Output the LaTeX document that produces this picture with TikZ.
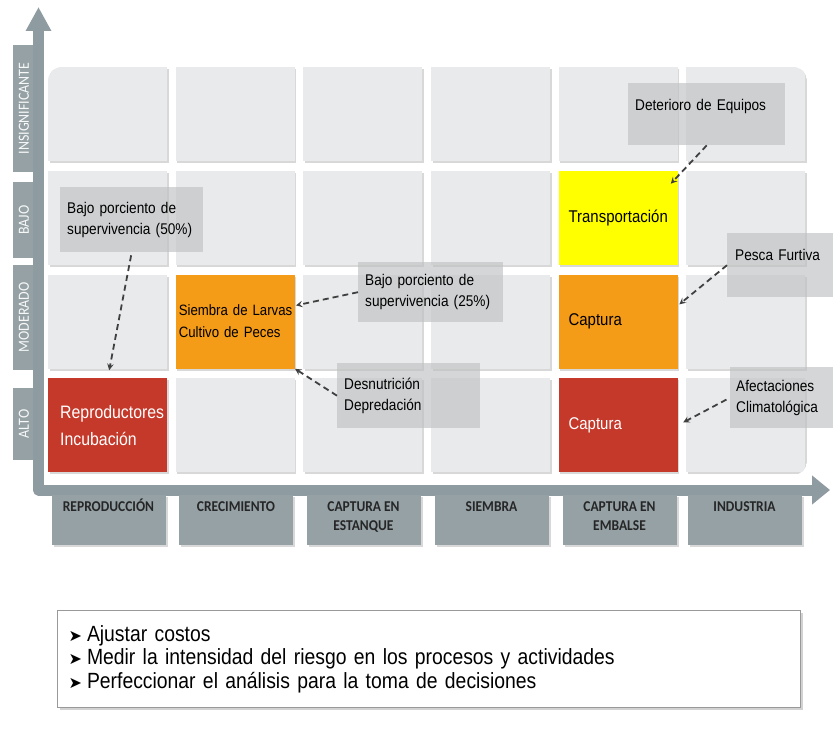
\documentclass[tikz,border=0pt]{standalone}
\usepackage{fontspec}
\setmainfont{Liberation Sans}[FakeStretch=0.88]
\newfontfamily\axisfont{Carlito}[FakeStretch=0.9]
\newfontfamily\bulletfont{DejaVu Sans}
\usepackage{tikz}
\usetikzlibrary{positioning}
\usetikzlibrary{arrows,arrows.meta,shadows}
\definecolor{axisgray}{HTML}{8E9BA0}
\definecolor{tabgray}{HTML}{95A1A5}
\definecolor{cellgray}{HTML}{E8EAEB}
\definecolor{riskred}{HTML}{C5392A}
\definecolor{riskorange}{HTML}{F49B17}
\definecolor{riskyellow}{HTML}{FFFF00}
\definecolor{notegray}{HTML}{BFC1C2}
\definecolor{linkgray}{HTML}{404040}
\tikzset{
    every picture/.style={>=stealth,auto},
}

\begin{document}
\begin{tikzpicture}[x=1pt,y=-1pt,
  cell/.style={rectangle,anchor=north west,fill=cellgray,minimum width=119pt,minimum height=94pt,inner sep=0pt,drop shadow={shadow xshift=1.5pt,shadow yshift=-2pt,opacity=0.3}},
  risk/.style={cell,fill=#1,align=left,inner xsep=10pt,text width=99pt,font=\fontsize{17}{22}\selectfont},
  ytab/.style={fill=tabgray,rotate=90,minimum height=22pt,inner sep=0pt,text=white!92!tabgray,font=\axisfont\fontsize{15.5}{15.5}\selectfont},
  xtab/.style={fill=tabgray,anchor=north,minimum width=114pt,minimum height=50pt,drop shadow={shadow xshift=2pt,shadow yshift=-2pt,opacity=0.3}},
  xlab/.style={anchor=north,yshift=-3pt,align=center,text=black!85,font=\axisfont\bfseries\fontsize{15}{19}\selectfont},
  note/.style={anchor=north west,fill=notegray,fill opacity=0.65,text opacity=1,align=left,inner xsep=7pt,text width=#1,font=\fontsize{15.5}{21}\selectfont},
  link/.style={draw=linkgray,dash pattern=on 6pt off 4pt,line width=1.8pt,->},
  summary/.style={anchor=north west,draw=black!40,line width=1.2pt,fill=white,minimum width=743pt,minimum height=97pt,inner xsep=11pt,text width=721pt,align=left,font=\fontsize{22}{23.5}\selectfont,drop shadow={shadow xshift=2pt,shadow yshift=-2pt,opacity=0.35}}]
\path[use as bounding box,fill=white] (0,0) rectangle (833,738);

\begin{scope}
\clip[rounded corners=14pt] (48,67) rectangle (807,475) (30,300) rectangle (300,495);
\foreach \c/\r in {1/1,1/2,1/3,2/1,2/2,2/4,3/1,3/2,3/3,3/4,4/1,4/2,4/3,4/4,5/1,6/1,6/2,6/3,6/4}
  \node[cell] (cell-\c-\r) at ({48+127.6*(\c-1)},{67+103.7*(\r-1)}) {};
\end{scope}

\node[risk=riskred,text=white,inner xsep=12pt,text width=95pt,font=\fontsize{18}{27}\selectfont] (repro) at (48,378.1) {Reproductores\\Incubación};
\node[risk=riskorange,inner xsep=3pt,text width=113pt,font=\fontsize{15}{22}\selectfont] (siembra) at (175.6,274.4) {\mbox{Siembra de Larvas}\\\mbox{Cultivo de Peces}};
\node[risk=riskyellow] (transp) at (558.4,170.7) {Transportación};
\node[risk=riskorange] (capmod) at (558.4,274.4) {Captura};
\node[risk=riskred,text=white] (capalto) at (558.4,378.1) {Captura};

\node[ytab,minimum width=127pt] (tab-insig) at (24,108.5) {INSIGNIFICANTE};
\node[ytab,minimum width=76pt] (tab-bajo) at (24,220) {BAJO};
\node[ytab,minimum width=105pt] (tab-mod) at (24,317.5) {MODERADO};
\node[ytab,minimum width=72pt] (tab-alto) at (24,424) {ALTO};

\draw[axisgray,line width=11pt,line join=round,{Triangle[length=24pt,width=24pt]}-{Triangle[length=18pt,width=28pt]}] (38.5,7) -- (38.5,490) -- (830,490);

\node[xtab,label={[xlab,yshift=3pt]north:REPRODUCCIÓN}] (tab-repro) at (108.5,495) {};
\node[xtab,label={[xlab]north:CRECIMIENTO}] (tab-crec) at (236,495) {};
\node[xtab,label={[xlab]north:CAPTURA EN\\ESTANQUE}] (tab-estanque) at (363.5,495) {};
\node[xtab,label={[xlab]north:SIEMBRA}] (tab-siembra) at (491.5,495) {};
\node[xtab,label={[xlab]north:CAPTURA EN\\EMBALSE}] (tab-embalse) at (619.5,495) {};
\node[xtab,label={[xlab]north:INDUSTRIA}] (tab-industria) at (744.5,495) {};

\node[note=129pt,minimum height=65pt] (note50) at (60,187) {Bajo porciento de\\supervivencia (50\%)};
\node[note=131pt,minimum height=60pt] (note25) at (358,262) {Bajo porciento de\\supervivencia (25\%)};
\node[note=129pt,minimum height=65pt] (desn) at (337,363) {Desnutrición\\Depredación};
\node[note=143pt,minimum height=62pt,text depth=18pt] (deter) at (628,83) {Deterioro de Equipos};
\node[note=100pt,minimum height=64pt,text depth=20pt,inner xsep=8pt] (pesca) at (727,233) {Pesca Furtiva};
\node[note=100pt,minimum height=61pt,inner xsep=6pt] (afect) at (730,367) {Afectaciones\\Climatológica};

\path (note50.south) edge[link,shorten <=3pt,shorten >=8pt] (repro.north)
(note25.west) edge[link,shorten >=1pt] (siembra.15)
(desn.west) edge[link] (siembra.south east)
(deter.south) edge[link] ([shift={(-7,13)}]transp.north east)
(pesca.west) edge[link,shorten >=2pt] (capmod.15)
(afect.west) edge[link,shorten <=4pt,shorten >=6pt] (capalto.east)
;

\node[summary] (summary) at (57,610) {{\bulletfont\fontsize{16}{16}\selectfont ➤}\hspace{5pt}Ajustar costos\\
{\bulletfont\fontsize{16}{16}\selectfont ➤}\hspace{5pt}Medir la intensidad del riesgo en los procesos y actividades\\
{\bulletfont\fontsize{16}{16}\selectfont ➤}\hspace{5pt}Perfeccionar el análisis para la toma de decisiones};
\end{tikzpicture}
\end{document}
